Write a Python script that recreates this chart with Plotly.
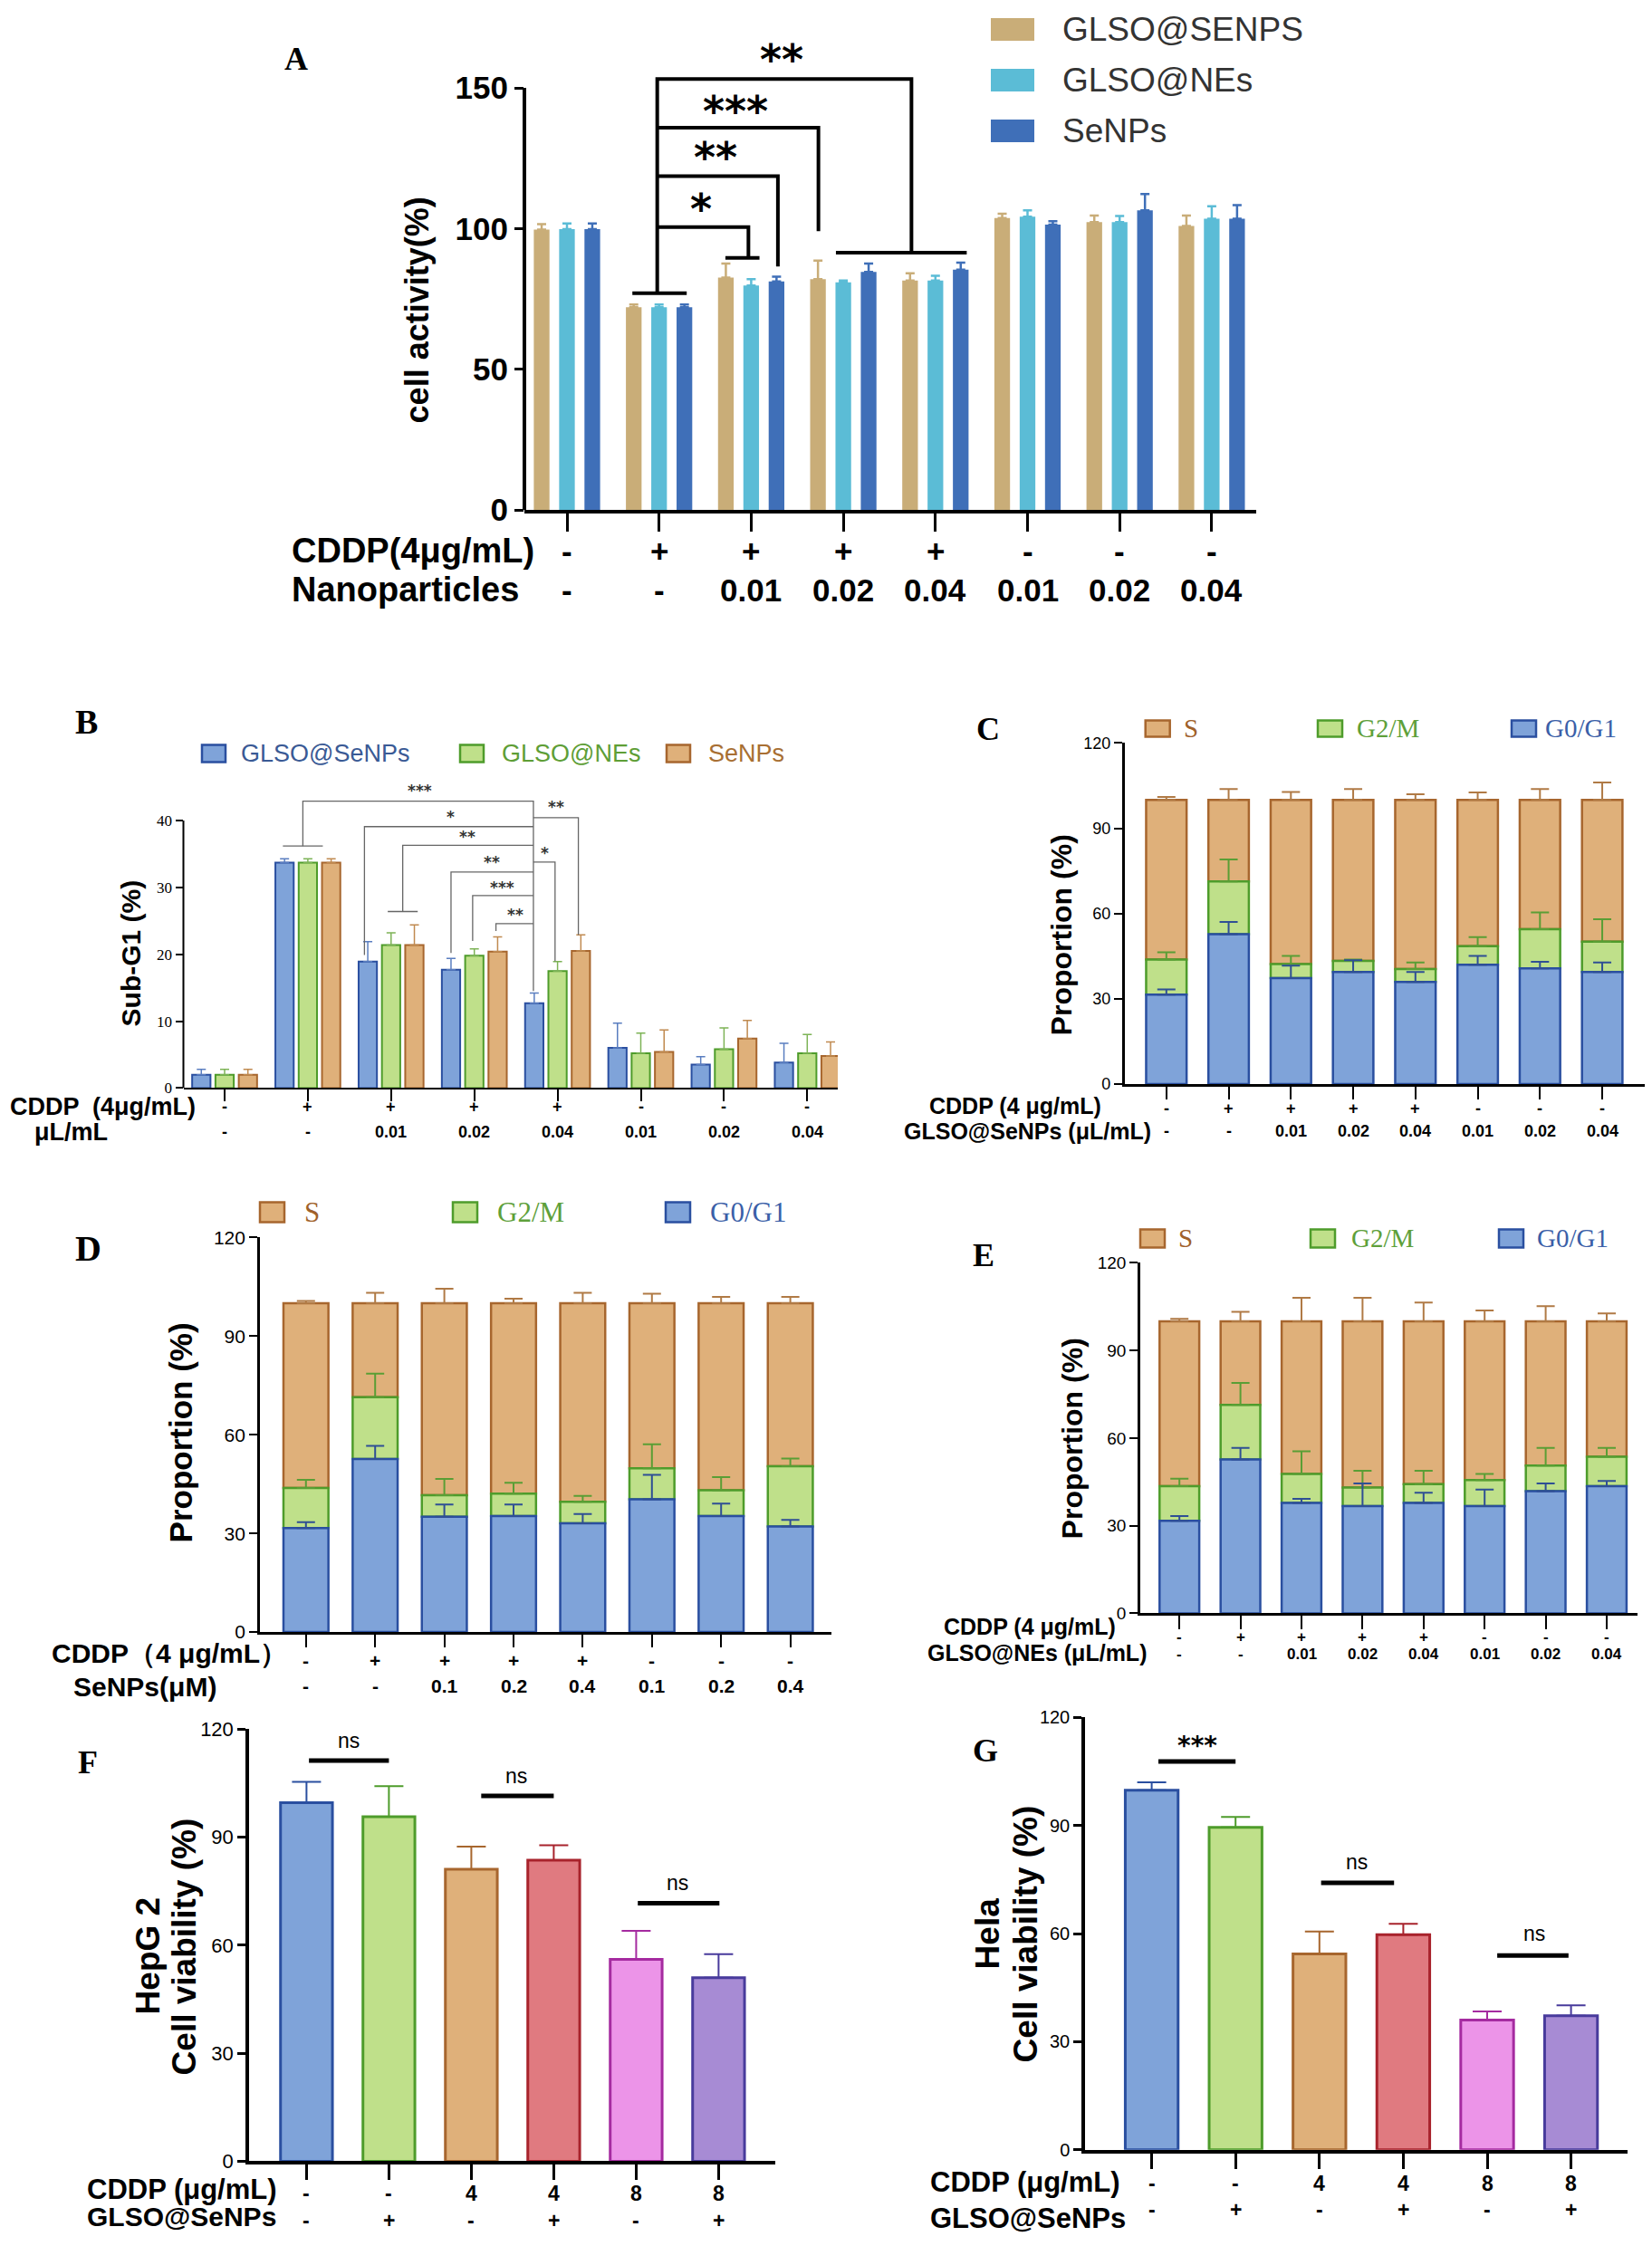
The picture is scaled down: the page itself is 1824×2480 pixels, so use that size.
import plotly.graph_objects as go

W, H = 1824, 2480
OFF = 8                       # the page body keeps an 8px margin round the figure
FW, FH = W - 2 * OFF, H - 2 * OFF
# measured on the photographed page: photo_y = PHOTO_T + PHOTO_S * figure_y
PHOTO_T, PHOTO_S = 20.6, 0.98742
SANS = "Liberation Sans, Arial, sans-serif"
SERIF = "Liberation Serif, Times New Roman, serif"
STAR = "DejaVu Sans, sans-serif"

# ---------------- data ----------------
# A: cell activity (%)
a_cddp = ["-", "+", "+", "+", "+", "-", "-", "-"]
a_nano = ["-", "-", "0.01", "0.02", "0.04", "0.01", "0.02", "0.04"]
a_names = ["GLSO@SENPS", "GLSO@NEs", "SeNPs"]
a_glso_senps = [99.6, 72.0, 82.6, 82.0, 81.5, 103.7, 102.3, 100.9]
a_glso_senps_err = [2.0, 1.0, 5.0, 6.6, 2.6, 1.6, 2.3, 3.7]
a_glso_nes = [99.8, 72.0, 79.8, 80.9, 81.5, 104.2, 102.3, 103.5]
a_glso_nes_err = [2.0, 1.0, 2.2, 0.6, 1.7, 2.3, 2.2, 4.4]
a_senps = [99.8, 72.0, 81.2, 84.6, 85.4, 101.4, 106.5, 103.5]
a_senps_err = [2.0, 1.0, 1.7, 3.0, 2.5, 1.2, 5.8, 4.8]

# B: Sub-G1 (%)
b_cddp = ["-", "+", "+", "+", "+", "-", "-", "-"]
b_dose = ["-", "-", "0.01", "0.02", "0.04", "0.01", "0.02", "0.04"]
b_names = ["GLSO@SeNPs", "GLSO@NEs", "SeNPs"]
b_glso_senps = [2.0, 33.7, 18.9, 17.7, 12.7, 6.0, 3.5, 3.8]
b_glso_senps_err = [0.8, 0.6, 3.0, 1.7, 1.5, 3.7, 1.2, 2.9]
b_glso_nes = [2.0, 33.7, 21.4, 19.8, 17.5, 5.2, 5.8, 5.2]
b_glso_nes_err = [0.8, 0.6, 1.8, 1.0, 1.4, 3.0, 3.2, 2.8]
b_senps = [2.0, 33.7, 21.4, 20.4, 20.5, 5.4, 7.4, 4.8]
b_senps_err = [0.8, 0.6, 3.0, 2.2, 2.4, 3.3, 2.7, 2.1]

# C: cell cycle, GLSO@SeNPs
c_cddp = ["-", "+", "+", "+", "+", "-", "-", "-"]
c_dose = ["-", "-", "0.01", "0.02", "0.04", "0.01", "0.02", "0.04"]
c_g0g1 = [31.5, 52.7, 37.3, 39.4, 35.9, 42.0, 40.7, 39.4]
c_g0g1_err = [1.8, 4.3, 4.4, 4.2, 3.5, 3.1, 2.3, 3.4]
c_g2m = [12.3, 18.6, 4.9, 3.9, 4.6, 6.5, 13.8, 10.7]
c_g2m_err = [2.6, 7.7, 2.9, 0.5, 2.3, 3.2, 5.9, 7.9]
c_s = [56.2, 28.7, 57.8, 56.7, 59.5, 51.5, 45.5, 49.9]
c_s_err = [1.0, 3.8, 2.8, 3.8, 2.0, 2.6, 3.8, 6.1]

# D: cell cycle, SeNPs
d_cddp = ["-", "+", "+", "+", "+", "-", "-", "-"]
d_dose = ["-", "-", "0.1", "0.2", "0.4", "0.1", "0.2", "0.4"]
d_g0g1 = [31.6, 52.6, 35.1, 35.3, 33.1, 40.4, 35.3, 32.1]
d_g0g1_err = [1.8, 4.0, 3.7, 3.5, 2.8, 7.4, 3.8, 2.0]
d_g2m = [12.2, 18.8, 6.5, 6.8, 6.5, 9.4, 7.8, 18.3]
d_g2m_err = [2.5, 7.2, 5.0, 3.3, 1.8, 7.3, 4.0, 2.4]
d_s = [56.2, 28.6, 58.4, 57.9, 60.4, 50.2, 56.9, 49.6]
d_s_err = [0.7, 3.2, 4.4, 1.4, 3.2, 2.9, 1.9, 1.9]

# E: cell cycle, GLSO@NEs
e_cddp = ["-", "+", "+", "+", "+", "-", "-", "-"]
e_dose = ["-", "-", "0.01", "0.02", "0.04", "0.01", "0.02", "0.04"]
e_g0g1 = [31.7, 52.7, 37.8, 36.7, 37.8, 36.7, 41.8, 43.5]
e_g0g1_err = [1.6, 3.9, 1.4, 7.8, 3.5, 5.7, 2.7, 1.8]
e_g2m = [11.8, 18.7, 9.9, 6.4, 6.4, 8.9, 8.8, 10.1]
e_g2m_err = [2.6, 7.5, 7.8, 5.7, 4.6, 2.1, 6.0, 3.0]
e_s = [56.5, 28.6, 52.3, 56.9, 55.8, 54.4, 49.4, 46.4]
e_s_err = [0.8, 3.2, 8.0, 8.0, 6.4, 3.7, 5.2, 2.7]

# F / G: cell viability (%)
fg_cddp = ["-", "-", "4", "4", "8", "8"]
fg_glso = ["-", "+", "-", "+", "-", "+"]
f_viab = [99.6, 95.7, 81.1, 83.6, 56.1, 51.0]
f_err = [5.8, 8.5, 6.3, 4.2, 7.9, 6.5]
g_viab = [99.8, 89.5, 54.4, 59.7, 36.0, 37.2]
g_err = [2.2, 2.9, 6.2, 3.0, 2.4, 2.9]

# ---------------- colours ----------------
A_COL = ["#C9AD78", "#5BBCD6", "#3F6FB8"]
BLUE, BLUE_E = "#7FA3D9", "#2A4FA0"
GREEN, GREEN_E = "#BFE08A", "#4E9C2B"
TAN, TAN_E = "#DFB07A", "#A7662E"
FG_FILL = [BLUE, GREEN, TAN, "#E07A80", "#EC94E8", "#A78BD4"]
FG_EDGE = [BLUE_E, GREEN_E, TAN_E, "#A8232C", "#A52BA0", "#483B9C"]

fig = go.Figure()
ann, shp = [], []


def fx(x):
    return (x - OFF) / FW


def fy(y):
    return 1 - (y - PHOTO_T) / PHOTO_S / FH


def note(text, x, y, size, family=SANS, color="black", xref="paper", yref="paper",
         xanchor="center", yanchor="middle", angle=0, yshift=0):
    if xref == "paper":
        x = fx(x)
    if yref == "paper":
        y = fy(y)
    ann.append(dict(text=text, x=x, y=y, xref=xref, yref=yref, xanchor=xanchor,
                    yanchor=yanchor, textangle=angle, yshift=yshift, showarrow=False,
                    font=dict(family=family, size=size, color=color)))


def box(x0, y0, x1, y1, fill, edge, lw=2.5):
    shp.append(dict(type="rect", xref="paper", yref="paper", x0=fx(x0), x1=fx(x1),
                    y0=fy(y1), y1=fy(y0), fillcolor=fill,
                    line=dict(color=edge, width=lw)))


def polyline(n, pts, color="black", lw=2):
    s = "" if n == 1 else str(n)
    path = "M " + " L ".join(f"{x},{y}" for x, y in pts)
    shp.append(dict(type="path", path=path, xref="x" + s, yref="y" + s,
                    line=dict(color=color, width=lw)))


def stars(n, text, x, y, size, bold=True, color="black"):
    s = "" if n == 1 else str(n)
    t = f"<b>{text}</b>" if bold else text
    note(t, x, y, size, family=STAR, color=color, xref="x" + s, yref="y" + s,
         yshift=-0.22 * size)


def axes(n, xl, xr, c0, sp, yb, ytk, tkmax, rmax, ngroups, yticks, tickfont,
         lw, xticklen, yticklen, yline=True):
    s = "" if n == 1 else str(n)
    xr = min(xr, W - OFF)
    k = (yb - ytk) / tkmax
    ytop = yb - rmax * k
    fig.update_layout(**{
        "xaxis" + s: dict(domain=[fx(xl), fx(xr)], range=[(xl - c0) / sp, (xr - c0) / sp],
                          anchor="y" + s, showgrid=False, zeroline=False, showline=True,
                          linecolor="black", linewidth=lw, ticks="outside",
                          tickvals=list(range(ngroups)), ticklen=xticklen,
                          tickwidth=max(lw * 0.8, 1.5), tickcolor="black",
                          showticklabels=False, fixedrange=True),
        "yaxis" + s: dict(domain=[fy(yb), fy(ytop)], range=[0, rmax],
                          anchor="x" + s, showgrid=False, zeroline=False, showline=yline,
                          linecolor="black", linewidth=lw, ticks="outside",
                          tickvals=yticks, ticklen=yticklen, tickwidth=max(lw * 0.8, 1.5),
                          tickcolor="black", tickfont=tickfont, fixedrange=True),
    })
    if not yline:
        shp.append(dict(type="line", xref=f"x{s} domain", yref="y" + s, x0=0, x1=0,
                        y0=0, y1=tkmax, line=dict(color="black", width=lw)))


def err(vals, color, thick, width):
    return dict(type="data", array=vals, arrayminus=[0] * len(vals), symmetric=False,
                color=color, thickness=thick, width=width)


def row_values(n, vals, ypix, size):
    s = "" if n == 1 else str(n)
    for i, v in enumerate(vals):
        note(f"<b>{v}</b>", i, ypix, size, xref="x" + s)


# ================= Panel A =================
axes(1, 579, 1387, 626, 101.7, 563.7, 97.6, 150, 170, 8, [0, 50, 100, 150],
     dict(family=SANS, size=35, color="black", weight="bold"), 4, 20, 10, yline=False)
for j, (v, e) in enumerate([(a_glso_senps, a_glso_senps_err), (a_glso_nes, a_glso_nes_err),
                            (a_senps, a_senps_err)]):
    fig.add_trace(go.Bar(x=list(range(8)), y=v, width=0.17, offset=(j - 1) * 0.275 - 0.085,
                         marker=dict(color=A_COL[j], line=dict(width=0)),
                         error_y=err(e, A_COL[j], 2.5, 5), xaxis="x", yaxis="y",
                         name=a_names[j], showlegend=False))
a_brackets = [
    [(0.71, 77.0), (1.30, 77.0)],
    [(0.98, 77.0), (0.98, 153.1), (3.74, 153.1), (3.74, 91.4)],
    [(2.92, 91.4), (4.34, 91.4)],
    [(0.98, 135.8), (2.73, 135.8), (2.73, 99.1)],
    [(0.98, 118.6), (2.29, 118.6), (2.29, 86.5)],
    [(0.98, 100.5), (1.97, 100.5), (1.97, 89.6)],
    [(1.72, 89.6), (2.09, 89.6)],
]
for pts in a_brackets:
    polyline(1, pts, "black", 4)
for t, x, y in [("**", 2.33, 163.2), ("***", 1.83, 144.8), ("**", 1.61, 128.4), ("*", 1.46, 110.2)]:
    stars(1, t, x, y, 46)
note("<b>A</b>", 327, 66, 36, family=SERIF)
note("<b>cell activity(%)</b>", 460, 343, 36, angle=-90)
for j, yc in enumerate([33, 89, 145]):
    box(1094, yc - 12.5, 1142, yc + 12.5, A_COL[j], A_COL[j], 0)
    note(a_names[j], 1171, yc, 37, color="#333333", xanchor="left")
note("<b>CDDP(4μg/mL)</b>", 320, 609, 38, xanchor="left")
note("<b>Nanoparticles</b>", 320, 652, 38, xanchor="left")
row_values(1, a_cddp, 609, 35)
row_values(1, a_nano, 652, 35)

# ================= Panel B =================
axes(2, 202.5, 925, 248, 91.9, 1202, 906.7, 40, 47, 8, [0, 10, 20, 30, 40],
     dict(family=SERIF, size=17, color="black"), 2, 13, 8, yline=False)
b_fill = [BLUE, GREEN, TAN]
b_edge = [BLUE_E, GREEN_E, TAN_E]
b_errc = ["#5A7EC0", "#7DB356", "#C08A50"]
for j, (v, e) in enumerate([(b_glso_senps, b_glso_senps_err), (b_glso_nes, b_glso_nes_err),
                            (b_senps, b_senps_err)]):
    fig.add_trace(go.Bar(x=list(range(8)), y=v, width=0.22, offset=(j - 1) * 0.28 - 0.11,
                         marker=dict(color=b_fill[j], line=dict(color=b_edge[j], width=2)),
                         error_y=err(e, b_errc[j], 1.5, 5), xaxis="x2", yaxis="y2",
                         name=b_names[j], showlegend=False))
b_brackets = [
    [(0.70, 36.2), (1.18, 36.2)],
    [(0.94, 36.2), (0.94, 42.9), (3.71, 42.9), (3.71, 14.5)],
    [(3.71, 40.45), (4.25, 40.45), (4.25, 22.9)],
    [(1.68, 19.9), (1.68, 39.1), (3.71, 39.1)],
    [(2.14, 26.4), (2.14, 36.3), (3.71, 36.3)],
    [(1.96, 26.4), (2.32, 26.4)],
    [(3.71, 33.8), (3.97, 33.8), (3.97, 19.0)],
    [(2.72, 20.2), (2.72, 32.3), (3.71, 32.3)],
    [(2.98, 22.0), (2.98, 28.8), (3.71, 28.8)],
    [(3.26, 23.5), (3.26, 24.6), (3.71, 24.6)],
]
for pts in b_brackets:
    polyline(2, pts, "#666666", 1.3)
for t, x, y in [("***", 2.35, 45.0), ("**", 3.98, 42.5), ("*", 2.72, 41.0), ("**", 2.92, 38.1),
                ("*", 3.85, 35.7), ("**", 3.21, 34.3), ("***", 3.34, 30.5), ("**", 3.49, 26.5)]:
    stars(2, t, x, y, 17, color="#333333")
note("<b>B</b>", 95, 798, 38, family=SERIF)
for (x0, tx), fill, edge, name, tc in zip([(223, 264), (508, 552), (736, 780)], b_fill, b_edge,
                                         b_names, ["#3A5A95", "#5E9E36", "#A86F33"]):
    box(x0, 823, x0 + 26, 842, fill, edge, 2.5)
    note(name, tx, 832.5, 27, color=tc, xanchor="left")
note("<b>Sub-G1 (%)</b>", 144, 1053, 30, angle=-90)
note("<b>CDDP  (4μg/mL)</b>", 9, 1223, 27, xanchor="left")
note("<b>μL/mL</b>", 36, 1251, 27, xanchor="left")
row_values(2, b_cddp, 1223, 18)
row_values(2, b_dose, 1251, 18)


# ============ stacked cell-cycle panels (C, D, E) ============
def cycle_panel(n, g0, g0e, g2, g2e, s_, se):
    ax = "" if n == 1 else str(n)
    base_s = [a + b for a, b in zip(g0, g2)]
    specs = [("S", s_, se, base_s, TAN, TAN_E, "#B07A45"),
             ("G2/M", g2, g2e, g0, GREEN, GREEN_E, "#5A9E35"),
             ("G0/G1", g0, g0e, [0] * len(g0), BLUE, BLUE_E, "#2F4F94")]
    for name, v, e, base, fill, edge, ec in specs:
        fig.add_trace(go.Bar(x=list(range(len(v))), y=v, base=base, width=0.65, offset=-0.325,
                             marker=dict(color=fill, line=dict(color=edge, width=2.5)),
                             error_y=err(e, ec, 2, 10), xaxis="x" + ax, yaxis="y" + ax,
                             name=name, showlegend=False))


def cycle_legend(ycen, h, xs, size):
    for (x0, tx), fill, edge, name, tc in zip(xs, [TAN, GREEN, BLUE], [TAN_E, GREEN_E, BLUE_E],
                                             ["S", "G2/M", "G0/G1"],
                                             ["#A0612A", "#5EA03A", "#3B5FA8"]):
        box(x0, ycen - h / 2, x0 + 27, ycen + h / 2, fill, edge, 2.5)
        note(name, tx, ycen, size, family=SERIF, color=tc, xanchor="left")


# Panel C
axes(3, 1241.6, 1824, 1287.8, 68.75, 1197.6, 821, 120, 120, 8, [0, 30, 60, 90, 120],
     dict(family=SANS, size=18, color="black"), 2.5, 14, 9)
cycle_panel(3, c_g0g1, c_g0g1_err, c_g2m, c_g2m_err, c_s, c_s_err)
note("<b>C</b>", 1091, 806, 36, family=SERIF)
cycle_legend(805, 18, [(1264.7, 1305), (1455, 1496), (1669, 1704)], 29)
note("<b>Proportion (%)</b>", 1172, 1033, 32, angle=-90)
note("<b>CDDP (4 μg/mL)</b>", 1218, 1222, 25, xanchor="right")
note("<b>GLSO@SeNPs (μL/mL)</b>", 1273, 1250, 25, xanchor="right")
row_values(3, c_cddp, 1225, 18)
row_values(3, c_dose, 1250, 18)

# Panel D
axes(4, 286.9, 918, 337.8, 76.4, 1802.7, 1367, 120, 120, 8, [0, 30, 60, 90, 120],
     dict(family=SANS, size=21, color="black"), 2.5, 14, 9)
cycle_panel(4, d_g0g1, d_g0g1_err, d_g2m, d_g2m_err, d_s, d_s_err)
note("<b>D</b>", 97, 1379, 40, family=SERIF)
cycle_legend(1339, 22, [(287, 334), (500, 547), (735, 782)], 31)
note("<b>Proportion (%)</b>", 199, 1583, 35, angle=-90)
note("<b>CDDP（4 μg/mL）</b>", 55, 1826, 30, xanchor="left")
note("<b>SeNPs(μM)</b>", 79, 1863, 30, xanchor="left")
row_values(4, d_cddp, 1834, 21)
row_values(4, d_dose, 1862, 21)

# Panel E
axes(5, 1259, 1808, 1302.2, 67.4, 1782, 1395, 120, 120, 8, [0, 30, 60, 90, 120],
     dict(family=SANS, size=19, color="black"), 2.5, 15, 9)
cycle_panel(5, e_g0g1, e_g0g1_err, e_g2m, e_g2m_err, e_s, e_s_err)
note("<b>E</b>", 1086, 1387, 36, family=SERIF)
cycle_legend(1368, 20, [(1259, 1299), (1447, 1490), (1655, 1695)], 29)
note("<b>Proportion (%)</b>", 1184, 1589, 32, angle=-90)
note("<b>CDDP (4 μg/mL)</b>", 1234, 1797, 25, xanchor="right")
note("<b>GLSO@NEs (μL/mL)</b>", 1268, 1826, 25, xanchor="right")
row_values(5, e_cddp, 1808, 17)
row_values(5, e_dose, 1827, 17)


# ============ viability panels (F, G) ============
def viability_panel(n, vals, errs):
    ax = "" if n == 1 else str(n)
    for i, (v, e) in enumerate(zip(vals, errs)):
        fig.add_trace(go.Bar(x=[i], y=[v], width=0.63, offset=-0.315,
                             marker=dict(color=FG_FILL[i], line=dict(color=FG_EDGE[i], width=3)),
                             error_y=err([e], FG_EDGE[i], 2, 16), xaxis="x" + ax, yaxis="y" + ax,
                             showlegend=False))


# Panel F
axes(6, 275, 856, 338.4, 91, 2387, 1910, 120, 120, 6, [0, 30, 60, 90, 120],
     dict(family=SANS, size=22, color="black"), 3.5, 17, 9)
viability_panel(6, f_viab, f_err)
for pts in [[(0.03, 111.3), (1.0, 111.3)], [(2.12, 101.5), (3.0, 101.5)], [(4.02, 71.7), (5.01, 71.7)]]:
    polyline(6, pts, "black", 5)
for x, y in [(0.51, 116.9), (2.55, 107.1), (4.50, 77.3)]:
    note("ns", x, y, 23, xref="x6", yref="y6")
note("<b>F</b>", 97, 1947, 36, family=SERIF)
note("<b>HepG 2</b>", 163, 2160, 37, angle=-90)
note("<b>Cell viability (%)</b>", 203, 2150, 37, angle=-90)
note("<b>CDDP (μg/mL)</b>", 94, 2418, 31, xanchor="left")
note("<b>GLSO@SeNPs</b>", 94, 2448, 30, xanchor="left")
row_values(6, fg_cddp, 2423, 23)
row_values(6, fg_glso, 2453, 23)

# Panel G
axes(7, 1198, 1797.4, 1271.6, 92.6, 2374.4, 1897, 120, 120, 6, [0, 30, 60, 90, 120],
     dict(family=SANS, size=20, color="black"), 3.5, 17, 9)
viability_panel(7, g_viab, g_err)
for pts in [[(0.08, 107.8), (1.0, 107.8)], [(2.02, 74.1), (2.89, 74.1)], [(4.12, 53.9), (4.97, 53.9)]]:
    polyline(7, pts, "black", 5)
stars(7, "***", 0.54, 113.7, 28)
for x, y in [(2.44, 80.0), (4.56, 59.9)]:
    note("ns", x, y, 23, xref="x7", yref="y7")
note("<b>G</b>", 1088, 1934, 36, family=SERIF)
note("<b>Hela</b>", 1090, 2136, 37, angle=-90)
note("<b>Cell viability (%)</b>", 1132, 2136, 37, angle=-90)
note("<b>CDDP (μg/mL)</b>", 1025, 2410, 31, xanchor="left")
note("<b>GLSO@SeNPs</b>", 1025, 2450, 31, xanchor="left")
row_values(7, fg_cddp, 2412, 23)
row_values(7, fg_glso, 2441, 23)

fig.update_layout(
    width=FW, height=FH, autosize=False,
    margin=dict(l=0, r=0, t=0, b=0, pad=0),
    paper_bgcolor="white", plot_bgcolor="white",
    showlegend=False, annotations=ann, shapes=shp,
    font=dict(family=SANS, color="black"),
)

fig.write_html("out.html")
